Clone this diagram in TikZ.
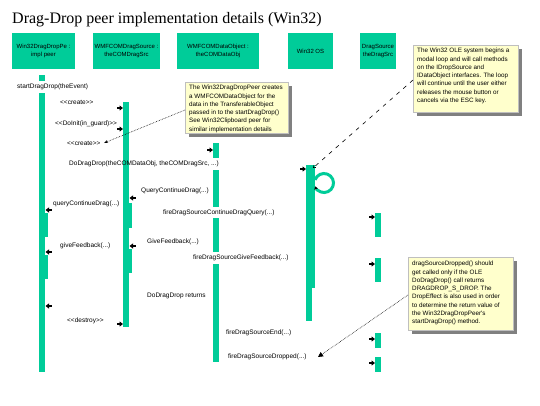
\documentclass[tikz,border=0pt]{standalone}
\usepackage{fontspec}
\setmainfont{Liberation Serif}
\newfontfamily\lsans{Liberation Sans}
\usetikzlibrary{arrows.meta,calc,shadows}
\definecolor{rosegreen}{RGB}{0,204,153}
\definecolor{noteyellow}{RGB}{255,255,204}
\definecolor{shadowgray}{RGB}{128,128,128}
\tikzset{
  objbox/.style={fill=rosegreen, draw=none, align=center, inner sep=0pt,
    font=\lsans\fontsize{6}{8}\selectfont},
  lbl/.style={font=\lsans\fontsize{6.5}{8}\selectfont, anchor=west, inner sep=0pt},
  flag/.style={line width=1.2pt, -{Triangle[length=3.5pt,width=5pt]}},
  notebox/.style={fill=noteyellow, draw=black!25, line width=0.4pt, align=left,
    anchor=north west, inner sep=0pt, text depth=0pt,
    font=\lsans\fontsize{6.3}{8.3}\selectfont,
    drop shadow={shadow xshift=4pt, shadow yshift=-4pt, fill=shadowgray, opacity=1}},
  notetext/.style={anchor=north west, align=left, inner sep=0pt,
    font=\lsans\fontsize{6.3}{8.3}\selectfont},
  bar/.style={fill=rosegreen}
}
\begin{document}
\begin{tikzpicture}[x=1pt,y=-1pt]
\useasboundingbox (0,0) rectangle (540,405);
\fill[white] (0,0) rectangle (540,405);

% title
\node[anchor=west, inner sep=0pt, font=\fontsize{16}{16}\selectfont] (title) at (12,20)
  {Drag-Drop peer implementation details (Win32)};

% objects
\node[objbox, minimum width=63pt, minimum height=36pt] (o1) at (43.5,51) {Win32DragDropPe :\\impl peer};
\node[objbox, minimum width=67pt, minimum height=36pt] (o2) at (126.5,51) {WMFCOMDragSource :\\theCOMDragSrc};
\node[objbox, minimum width=82pt, minimum height=36pt] (o3) at (218,51) {WMFCOMDataObject :\\theCOMDataObj};
\node[objbox, minimum width=45pt, minimum height=36pt] (o4) at (310.5,51) {Win32 OS};
\node[objbox, minimum width=36pt, minimum height=36pt] (o5) at (378,51) {DragSource\\theDragSrc};

% activation bars
\fill[bar] (39,75) rectangle (45,81);
\fill[bar] (39,93) rectangle (45,372);
\fill[bar] (39,213) rectangle (48,237);
\fill[bar] (39,255) rectangle (48,279);

\fill[bar] (123,102) rectangle (129,327);
\fill[bar] (123,203) rectangle (132,228);
\fill[bar] (123,249) rectangle (132,273);

\fill[bar] (213,143) rectangle (219,158);
\fill[bar] (213,170) rectangle (219,207);
\fill[bar] (213,218) rectangle (219,252);
\fill[bar] (213,264) rectangle (219,362);

\fill[bar] (306,165) rectangle (315,288);
\fill[bar] (306,288) rectangle (312,321);

\fill[bar] (375,213) rectangle (381,237);
\fill[bar] (375,258) rectangle (381,282);
\fill[bar] (375,333) rectangle (381,348);
\fill[bar] (375,357) rectangle (381,372);

% self loop on Win32 OS
\coordinate (lc) at (324,183);
\draw[rosegreen, line width=3pt, -{Triangle[black,length=3pt,width=3.5pt]}]
  ($(lc)+(-160:9.5)$) arc[start angle=-160, end angle=160, radius=9.5];

% message labels
\node[lbl] (l1) at (17,87) {startDragDrop(theEvent)};
\node[lbl] (l2) at (60,102) {<<create>>};
\node[lbl] (l3) at (55,124) {<<DoInit(in\_guard)>>};
\node[lbl] (l4) at (67,143) {<<create>>};
\node[lbl] (l5) at (69,164) {DoDragDrop(theCOMDataObj, theCOMDragSrc, ...)};
\node[lbl] (l6) at (141,191) {QueryContinueDrag(...)};
\node[lbl] (l7) at (53,204) {queryContinueDrag(...)};
\node[lbl] (l8) at (163,213) {fireDragSourceContinueDragQuery(...)};
\node[lbl] (l9) at (147,242) {GiveFeedback(...)};
\node[lbl] (l10) at (60,246) {giveFeedback(...)};
\node[lbl] (l11) at (193,258) {fireDragSourceGiveFeedback(...)};
\node[lbl] (l12) at (147,296) {DoDragDrop returns};
\node[lbl] (l13) at (67,321) {<<destroy>>};
\node[lbl] (l14) at (226,333) {fireDragSourceEnd(...)};
\node[lbl] (l15) at (228,357) {fireDragSourceDropped(...)};

% message arrow tips
\coordinate (t2) at (123,108);
\coordinate (t3) at (123,129);
\coordinate (t4) at (213,150);
\coordinate (t5) at (306,169);
\coordinate (t6) at (129.5,198);
\coordinate (t7) at (45.5,210);
\coordinate (t8) at (375,217);
\coordinate (t9) at (129.5,246);
\coordinate (t10) at (45.5,252);
\coordinate (t11) at (375,264);
\coordinate (t12) at (45.5,306);
\coordinate (t13) at (123,324);
\coordinate (t14) at (375,339);
\coordinate (t15) at (375,363);
\foreach \t in {t2,t3,t4,t5,t8,t11,t13,t14,t15}
  \draw[flag] ($(\t)+(-6,0)$) -- (\t);
\foreach \t in {t6,t7,t9,t10,t12}
  \draw[flag] ($(\t)+(6,0)$) -- (\t);

% notes
\node[notebox, minimum width=103pt, minimum height=51pt] (n1) at (185,82) {};
\node[notetext] (n1t) at (189,85) {The Win32DragDropPeer creates\\a WMFCOMDataObject for the\\data in the TransferableObject\\passed in to the startDragDrop()\\See Win32Clipboard peer for\\similar implementation details};

\node[notebox, minimum width=105pt, minimum height=67pt] (n2) at (413,45) {};
\node[notetext] (n2t) at (417,48) {The Win32 OLE system begins a\\modal loop and will call methods\\on the IDropSource and\\IDataObject interfaces. The loop\\will continue until the user either\\releases the mouse button or\\cancels via the ESC key.};

\node[notebox, minimum width=105pt, minimum height=73pt] (n3) at (408,257) {};
\node[notetext] (n3t) at (412,261) {dragSourceDropped() should\\get called only if the OLE\\DoDragDrop() call returns\\DRAGDROP\_S\_DROP. The\\DropEffect is also used in order\\to determine the return value of\\the Win32DragDropPeer's\\startDragDrop() method.};

% note anchors
\coordinate (a1) at (104,143);
\coordinate (a2) at (313,168);
\coordinate (a3) at (318,357);
\draw[densely dotted, line width=0.6pt, -{Stealth[length=4pt,width=3pt]}] (n1.west |- 0,110) -- (a1);
\draw[dash pattern=on 4pt off 5pt, line width=0.6pt, -{Straight Barb[length=2pt,width=3pt]}] (n2.west |- 0,80) -- (a2);
\draw[densely dotted, line width=0.6pt, -{Triangle[length=5pt,width=5pt]}] (n3.west |- 0,295) -- (a3);
\end{tikzpicture}
\end{document}
